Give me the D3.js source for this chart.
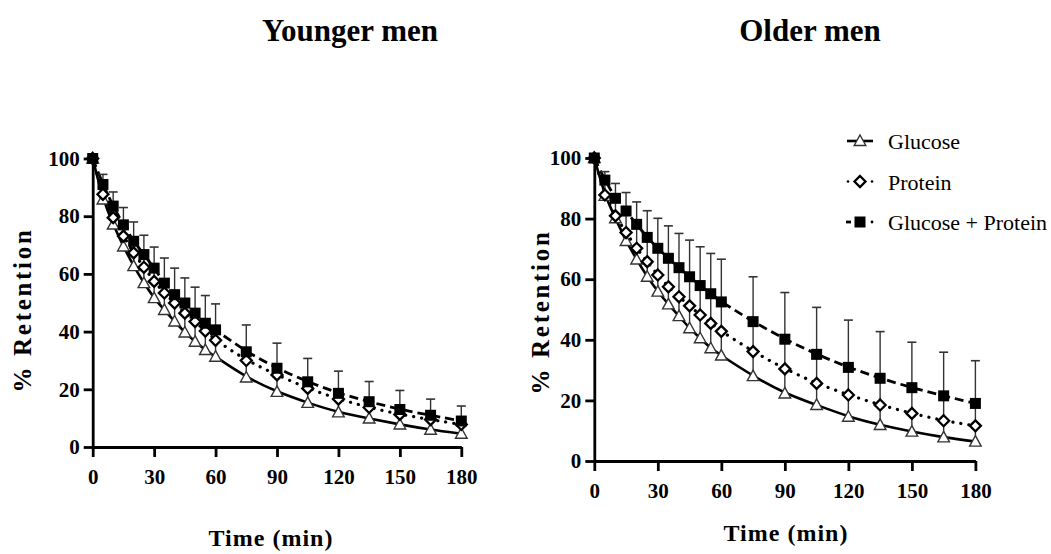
<!DOCTYPE html>
<html>
<head>
<meta charset="utf-8">
<script src="https://cdn.jsdelivr.net/npm/d3@7"></script>
<style>
    body { margin: 0; background: #fff; }
    svg { display: block; }
    text { font-family: 'Liberation Serif', 'Times New Roman', serif; fill: #000; }
    .axis path, .axis line { stroke: #000; stroke-width: 2.8; }
    .axis text { font-size: 21px; font-weight: bold; }
</style>
</head>
<body>
<script>
'use strict';

/* globals d3 */

// sampling times (min)
var times = [0, 5, 10, 15, 20, 25, 30, 35, 40, 45, 50, 55, 60, 75, 90, 105, 120, 135, 150, 165, 180];
var xTicks = [0, 30, 60, 90, 120, 150, 180];
var yTicks = [0, 20, 40, 60, 80, 100];
var seriesNames = ['Glucose', 'Protein', 'Glucose + Protein'];

// younger men, % retention and SD (only upper bar drawn)
var youngGlucose = [100, 85.8, 77.1, 69.5, 62.7, 56.8, 51.6, 47.5, 43.5, 39.7, 36.5, 33.6, 31.3, 24.1, 19.1, 15.3, 12.0, 9.9, 7.8, 6.0, 4.6];
var youngGlucoseSD = [0, 1.8, 2.4, 3.6, 4.6, 5.5, 5.8, 5.9, 6.4, 6.7, 7.0, 6.6, 5.7, 5.9, 5.9, 5.0, 4.6, 3.8, 3.5, 3.5, 3.2];
var youngProtein = [100, 87.6, 79.5, 73.1, 67.3, 62.3, 57.4, 53.4, 49.9, 46.4, 43.5, 40.2, 37.0, 30.0, 25.0, 20.3, 16.6, 13.7, 11.3, 9.5, 7.8];
var youngProteinSD = [0, 3.4, 4.0, 3.9, 4.0, 4.4, 4.6, 3.4, 2.9, 3.5, 2.9, 2.7, 3.6, 3.0, 2.3, 2.3, 2.0, 2.0, 1.7, 1.5, 1.2];
var youngBoth = [100, 91.0, 83.5, 77.0, 71.3, 66.7, 62.0, 56.8, 52.8, 49.9, 46.4, 42.9, 40.6, 33.0, 27.3, 22.6, 18.6, 15.7, 13.0, 11.0, 9.0];
var youngBothSD = [0, 3.5, 4.9, 6.0, 6.7, 6.7, 7.3, 8.7, 9.2, 8.7, 9.0, 9.6, 9.0, 9.3, 8.7, 8.1, 7.7, 7.0, 6.6, 5.6, 5.2];

// older men
var oldGlucose = [100, 87.5, 80.1, 72.6, 66.5, 60.8, 55.9, 51.7, 47.8, 43.8, 40.5, 37.2, 34.8, 28.0, 22.3, 18.5, 14.6, 11.9, 9.7, 7.8, 6.4];
var oldGlucoseSD = [0, 0.5, 1.0, 3.0, 4.0, 5.0, 5.5, 5.8, 6.4, 7.4, 7.7, 8.2, 8.0, 8.1, 8.1, 7.1, 7.2, 6.6, 6.0, 5.5, 5.2];
var oldProtein = [100, 87.8, 80.9, 75.4, 70.2, 65.8, 61.4, 57.5, 54.2, 51.2, 48.2, 45.4, 42.8, 36.1, 30.4, 25.6, 21.8, 18.5, 15.7, 13.3, 11.6];
var oldProteinSD = [0, 5.0, 5.8, 7.1, 7.9, 8.0, 8.8, 9.4, 9.6, 9.6, 9.7, 9.8, 9.7, 9.9, 9.8, 9.6, 9.1, 8.8, 8.5, 8.2, 7.4];
var oldBoth = [100, 92.7, 86.7, 82.5, 78.1, 73.8, 70.2, 66.9, 63.8, 60.8, 57.9, 55.2, 52.5, 46.0, 40.2, 35.2, 30.9, 27.3, 24.2, 21.5, 19.0];
var oldBothSD = [0, 2.8, 4.9, 6.1, 7.4, 8.8, 9.9, 10.7, 11.3, 12.1, 12.8, 13.3, 14.1, 14.8, 15.4, 15.5, 15.6, 15.4, 15.0, 14.4, 14.1];

var svg = d3.select('body').append('svg')
        .attr('width', 1051).attr('height', 554);

// line style + marker per series
var styles = [
    {dash: null, width: 2.6, cap: 'butt', marker: 'triangle'},
    {dash: '0.1 8', width: 3.2, cap: 'round', marker: 'diamond'},
    {dash: '9 5', width: 2.8, cap: 'butt', marker: 'square'}
];

function drawMarker(g, type, x, y) {
    if (type === 'triangle') {
        g.append('path')
            .attr('d', 'M' + x + ',' + (y - 6) + 'L' + (x + 5.8) + ',' + (y + 4.5) + 'L' + (x - 5.8) + ',' + (y + 4.5) + 'Z')
            .attr('fill', '#fff').attr('stroke', '#333').attr('stroke-width', 1.4);
    } else if (type === 'diamond') {
        g.append('path')
            .attr('d', 'M' + x + ',' + (y - 5.5) + 'L' + (x + 5.5) + ',' + y + 'L' + x + ',' + (y + 5.5) + 'L' + (x - 5.5) + ',' + y + 'Z')
            .attr('fill', '#fff').attr('stroke', '#000').attr('stroke-width', 2.3);
    } else {
        g.append('rect')
            .attr('x', x - 5.5).attr('y', y - 5.5).attr('width', 11).attr('height', 11)
            .attr('fill', '#000');
    }
}

function drawPanel(opt) {
    var x = d3.scaleLinear().domain([0, 180]).range(opt.xr);
    var y = d3.scaleLinear().domain([0, 100]).range(opt.yr);
    var g = svg.append('g');

    g.append('g').attr('class', 'axis')
        .attr('transform', 'translate(0,' + y(0) + ')')
        .call(d3.axisBottom(x).tickValues(xTicks).tickSize(10).tickSizeOuter(0).tickPadding(12));
    g.append('g').attr('class', 'axis')
        .attr('transform', 'translate(' + x(0) + ',0)')
        .call(d3.axisLeft(y).tickValues(yTicks).tickSize(9).tickSizeOuter(0).tickPadding(4));

    var line = d3.line()
        .x(function (d) { return x(d[0]); })
        .y(function (d) { return y(d[1]); })
        .curve(d3.curveBasis);

    // fitted curves
    opt.means.forEach(function (m, i) {
        var st = styles[i];
        g.append('path')
            .datum(times.map(function (t, k) { return [t, m[k]]; }))
            .attr('d', line)
            .attr('fill', 'none')
            .attr('stroke', '#000')
            .attr('stroke-width', st.width)
            .attr('stroke-linecap', st.cap)
            .attr('stroke-dasharray', st.dash);
    });

    // error bars (upper) then markers, series by series
    opt.means.forEach(function (m, i) {
        var sd = opt.sds[i];
        times.forEach(function (t, k) {
            if (!sd[k]) return;
            var top = y(m[k] + sd[k]);
            g.append('line')
                .attr('x1', x(t)).attr('x2', x(t))
                .attr('y1', y(m[k])).attr('y2', top)
                .attr('stroke', '#333').attr('stroke-width', 1.4);
            g.append('line')
                .attr('x1', x(t) - 4.5).attr('x2', x(t) + 4.5)
                .attr('y1', top).attr('y2', top)
                .attr('stroke', '#333').attr('stroke-width', 1.6);
        });
        times.forEach(function (t, k) {
            drawMarker(g, styles[i].marker, x(t), y(m[k]));
        });
    });

    // labels
    svg.append('text')
        .attr('x', opt.titleX).attr('y', 41)
        .attr('text-anchor', 'middle')
        .style('font-size', '31px').style('font-weight', 'bold')
        .text(opt.title);
    svg.append('text')
        .attr('transform', 'translate(' + opt.ylabX + ',' + opt.ylabY + ') rotate(-90)')
        .attr('text-anchor', 'middle')
        .style('font-size', '25px').style('font-weight', 'bold').style('letter-spacing', '2.7px')
        .text('% Retention');
    svg.append('text')
        .attr('x', opt.xlabX).attr('y', opt.xlabY)
        .attr('text-anchor', 'middle')
        .style('font-size', '24px').style('font-weight', 'bold').style('letter-spacing', '1px')
        .text('Time (min)');
}

drawPanel({
    xr: [92.7, 461.3], yr: [447, 158.5],
    means: [youngGlucose, youngProtein, youngBoth],
    sds: [youngGlucoseSD, youngProteinSD, youngBothSD],
    title: 'Younger men', titleX: 350, ylabX: 31, ylabY: 310, xlabX: 271, xlabY: 546
});
drawPanel({
    xr: [594.3, 975.4], yr: [461, 158],
    means: [oldGlucose, oldProtein, oldBoth],
    sds: [oldGlucoseSD, oldProteinSD, oldBothSD],
    title: 'Older men', titleX: 810, ylabX: 549, ylabY: 312, xlabX: 786, xlabY: 541
});

// legend
var legend = svg.append('g');
seriesNames.forEach(function (name, i) {
    var ly = 141 + i * 40.5;
    var st = styles[i];
    if (i === 0) {
        legend.append('line').attr('x1', 847).attr('x2', 873).attr('y1', ly).attr('y2', ly)
            .attr('stroke', '#000').attr('stroke-width', 2.6);
    } else if (i === 1) {
        [848, 872].forEach(function (dx) {
            legend.append('circle').attr('cx', dx).attr('cy', ly).attr('r', 1.3).attr('fill', '#000');
        });
    } else {
        legend.append('line').attr('x1', 846).attr('x2', 851).attr('y1', ly).attr('y2', ly)
            .attr('stroke', '#000').attr('stroke-width', 2.8);
        legend.append('circle').attr('cx', 872).attr('cy', ly).attr('r', 1.4).attr('fill', '#000');
    }
    drawMarker(legend, st.marker, 860, ly);
    legend.append('text')
        .attr('x', 888).attr('y', ly + 8)
        .style('font-size', '22px')
        .text(name);
});
</script>
</body>
</html>
